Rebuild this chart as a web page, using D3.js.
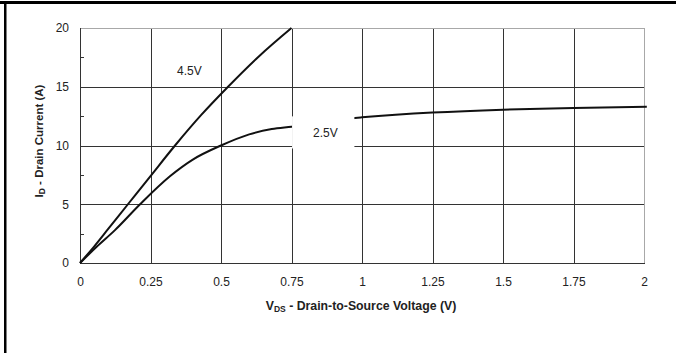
<!DOCTYPE html>
<html>
<head>
<meta charset="utf-8">
<script src="https://cdn.jsdelivr.net/npm/d3@7"></script>
<style>
  html, body { margin: 0; padding: 0; background: #fff; }
  svg { display: block; font-family: "Liberation Sans", Arial, sans-serif; }
</style>
</head>
<body>
<svg id="chart" width="676" height="353"></svg>
<script>
// Output characteristics: drain current vs drain-to-source voltage
const xTicks = [0, 0.25, 0.5, 0.75, 1, 1.25, 1.5, 1.75, 2];
const xTickLabels = ["0", "0.25", "0.5", "0.75", "1", "1.25", "1.5", "1.75", "2"];
const yTicks = [0, 5, 10, 15, 20];
const yMinorTicks = [2.5, 7.5, 12.5, 17.5];

// V_GS = 4.5 V curve: [V_DS, I_D]
const curve45 = [
  [0, 0], [0.05, 1.4], [0.1, 2.9], [0.17, 5.0], [0.25, 7.4],
  [0.337, 10], [0.43, 12.6], [0.525, 15], [0.635, 17.6], [0.75, 20]
];
// V_GS = 2.5 V curve: [V_DS, I_D]
const curve25 = [
  [0, 0], [0.06, 1.4], [0.124, 2.8], [0.213, 5.0], [0.32, 7.4],
  [0.4, 8.8], [0.5, 10], [0.6, 10.95], [0.68, 11.4], [0.75, 11.6],
  [0.975, 12.35], [1, 12.4], [1.25, 12.8], [1.5, 13.05], [1.75, 13.2], [2.01, 13.3]
];
const curveLabels = [
  { text: "4.5V", v: 0.388, i: 16.3 },
  { text: "2.5V", v: 0.87, i: 11.1 }
];
// region behind the 2.5V label that is kept clear
const labelClear = { v0: 0.752, v1: 0.973, i0: 9.75, i1: 12.48 };

const svg = d3.select("#chart");
const x = d3.scaleLinear().domain([0, 2]).range([80, 644]);
const y = d3.scaleLinear().domain([0, 20]).range([263, 28]);

// page frame (top and left rules)
svg.append("rect").attr("x", 0).attr("y", 1).attr("width", 676).attr("height", 3).attr("fill", "#000");
svg.append("rect").attr("x", 4).attr("y", 1).attr("width", 2.5).attr("height", 352).attr("fill", "#000");

// grid
const grid = svg.append("g").attr("shape-rendering", "crispEdges");
grid.selectAll("line.vg").data(xTicks.filter(d => d > 0)).join("line")
  .attr("class", "vg")
  .attr("x1", d => Math.round(x(d)) + 0.5).attr("x2", d => Math.round(x(d)) + 0.5)
  .attr("y1", y(20)).attr("y2", y(0))
  .attr("stroke", d => d === 2 ? "#a8a8a8" : "#333").attr("stroke-width", 1.2);
grid.selectAll("line.hg").data(yTicks.filter(d => d > 0)).join("line")
  .attr("class", "hg")
  .attr("x1", x(0)).attr("x2", x(2))
  .attr("y1", d => Math.round(y(d)) + 0.5).attr("y2", d => Math.round(y(d)) + 0.5)
  .attr("stroke", d => d === 20 ? "#a8a8a8" : "#333").attr("stroke-width", 1.2);

// axes lines
grid.append("line").attr("x1", x(0) + 0.5).attr("x2", x(0) + 0.5).attr("y1", y(20)).attr("y2", y(0))
  .attr("stroke", "#333").attr("stroke-width", 1.4);
grid.append("line").attr("x1", x(0)).attr("x2", x(2) + 1).attr("y1", Math.round(y(0)) + 0.5).attr("y2", Math.round(y(0)) + 0.5)
  .attr("stroke", "#333").attr("stroke-width", 1.4);
grid.selectAll("line.mt").data(yMinorTicks).join("line")
  .attr("class", "mt")
  .attr("x1", x(0)).attr("x2", x(0) + 4)
  .attr("y1", d => Math.round(y(d)) + 0.5).attr("y2", d => Math.round(y(d)) + 0.5)
  .attr("stroke", "#333").attr("stroke-width", 1);

// curves
const line = d3.line().x(d => x(d[0])).y(d => y(d[1])).curve(d3.curveMonotoneX);
[curve45, curve25].forEach(c => {
  svg.append("path").datum(c).attr("d", line)
    .attr("fill", "none").attr("stroke", "#111").attr("stroke-width", 2)
    .attr("stroke-linejoin", "round");
});

// clear area behind the 2.5V label
svg.append("rect")
  .attr("x", x(labelClear.v0)).attr("y", y(labelClear.i1))
  .attr("width", x(labelClear.v1) - x(labelClear.v0))
  .attr("height", y(labelClear.i0) - y(labelClear.i1))
  .attr("fill", "#fff");

svg.selectAll("text.cl").data(curveLabels).join("text")
  .attr("class", "cl")
  .attr("x", d => x(d.v)).attr("y", d => y(d.i))
  .attr("text-anchor", "middle").attr("dominant-baseline", "central")
  .attr("font-size", 12).attr("fill", "#222")
  .text(d => d.text);

// tick labels
const xAxis = d3.axisBottom(x).tickValues(xTicks).tickSize(0).tickPadding(14)
  .tickFormat((d, i) => xTickLabels[i]);
const gx = svg.append("g").attr("transform", `translate(0,${y(0)})`).call(xAxis);
gx.select(".domain").remove();
gx.selectAll("text").attr("font-size", 12).attr("fill", "#222").attr("font-family", "Liberation Sans, Arial, sans-serif");

const yAxis = d3.axisLeft(y).tickValues(yTicks).tickSize(0).tickPadding(11);
const gy = svg.append("g").attr("transform", `translate(${x(0)},0)`).call(yAxis);
gy.select(".domain").remove();
gy.selectAll("text").attr("font-size", 12).attr("fill", "#222").attr("font-family", "Liberation Sans, Arial, sans-serif");

// axis titles
const xt = svg.append("text")
  .attr("x", 361).attr("y", 310)
  .attr("text-anchor", "middle").attr("font-size", 12.3).attr("font-weight", "bold").attr("fill", "#222");
xt.append("tspan").text("V");
xt.append("tspan").attr("font-size", 8.5).attr("dy", 2).text("DS");
xt.append("tspan").attr("dy", -2).text(" - Drain-to-Source Voltage (V)");

const yt = svg.append("text")
  .attr("transform", "translate(43,141) rotate(-90)")
  .attr("text-anchor", "middle").attr("font-size", 11.5).attr("font-weight", "bold").attr("fill", "#222");
yt.append("tspan").text("I");
yt.append("tspan").attr("font-size", 8.5).attr("dy", 2).text("D");
yt.append("tspan").attr("dy", -2).text(" - Drain Current (A)");
</script>
</body>
</html>
